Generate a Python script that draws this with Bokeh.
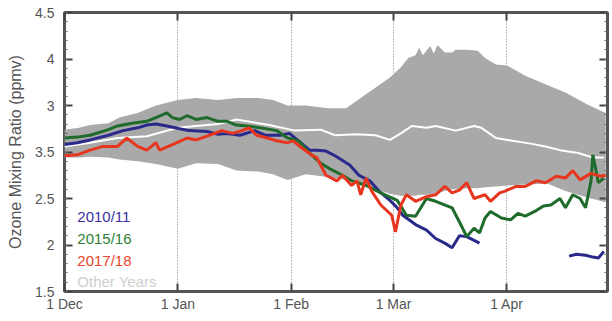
from bokeh.plotting import figure
from bokeh.models import FixedTicker, LinearAxis, Label
from bokeh.embed import file_html
from bokeh.resources import INLINE

nan = float("nan")

# x axis: days since 1 Dec
month_days = [0, 31, 62, 90, 121]
month_labels = ["1 Dec", "1 Jan", "1 Feb", "1 Mar", "1 Apr"]

y_ticks = [1.5, 2, 2.5, 3, 3.5, 4, 4.5]
y_tick_labels = ["1.5", "2", "2.5", "3.5", "3", "4", "4.5"]

# "Other Years" envelope
band_days = [0, 4, 7, 12, 15, 20, 25, 31, 36, 42, 47, 53, 57, 61, 66, 72, 77, 81, 85, 89,
             92, 94, 96, 97, 98, 100, 101, 102, 104, 106, 107, 110, 113, 115, 118, 121,
             126, 132, 137, 143, 148]
band_upper = [3.24, 3.26, 3.29, 3.31, 3.37, 3.42, 3.50, 3.56, 3.58, 3.56, 3.58, 3.58, 3.56,
              3.50, 3.50, 3.47, 3.47, 3.58, 3.69, 3.80, 3.91, 4.01, 4.04, 4.12, 4.04, 4.14,
              4.06, 4.15, 4.07, 4.07, 4.10, 4.10, 4.09, 4.01, 3.94, 3.93, 3.82, 3.72, 3.64,
              3.51, 3.42]
band_lower = [2.94, 2.94, 2.95, 2.94, 2.92, 2.90, 2.87, 2.82, 2.88, 2.87, 2.80, 2.79, 2.76,
              2.70, 2.76, 2.73, 2.70, 2.65, 2.60, 2.55, 2.53, 2.53, 2.53, 2.54, 2.54, 2.54,
              2.55, 2.56, 2.58, 2.60, 2.60, 2.61, 2.61, 2.62, 2.63, 2.64, 2.65, 2.66, 2.58,
              2.51, 2.46]

mean_days = [0, 7, 14.5, 22.5, 31, 36, 42, 47, 53, 56, 63, 70, 74, 80, 85, 89, 92, 95, 99,
             101.5, 107, 112, 114, 118, 122.5, 127.5, 131.5, 135.5, 140.5, 144.5, 147.5]
mean_vals = [3.06, 3.10, 3.15, 3.17, 3.26, 3.28, 3.30, 3.35, 3.31, 3.29, 3.23, 3.24, 3.18,
             3.19, 3.18, 3.13, 3.20, 3.28, 3.26, 3.28, 3.23, 3.28, 3.26, 3.15, 3.12, 3.09,
             3.06, 3.02, 2.99, 2.94, 2.94]

d1011 = [0, 3.5, 7, 12, 16, 20, 22.5, 25, 28, 31.5, 34, 39, 42, 44.5, 48, 52, 55, 59, 61.5,
         64, 67, 69, 71.5, 74, 78, 80.5, 83.5, 86, 89, 91, 92.5, 96, 99, 101.5, 104, 106,
         108, 110, 112, 113.5, 125, 138, 140, 142.5, 144.5, 146, 147.5]
v1011 = [3.08, 3.10, 3.13, 3.18, 3.23, 3.26, 3.29, 3.30, 3.28, 3.25, 3.23, 3.22, 3.19, 3.20,
         3.18, 3.23, 3.18, 3.18, 3.20, 3.12, 3.02, 3.02, 3.01, 2.96, 2.86, 2.75, 2.69, 2.58,
         2.48, 2.40, 2.32, 2.22, 2.16, 2.07, 2.02, 1.97, 2.10, 2.09, 2.05, 2.02, nan, 1.88,
         1.90, 1.89, 1.87, 1.86, 1.93]

d1516 = [0, 3.5, 7, 12, 14.5, 18.5, 22.5, 25, 28, 29.5, 31.5, 33.5, 36, 39, 42, 44.5, 47,
         50, 53.5, 58, 61, 64, 67, 70, 73, 76, 78.5, 82.5, 86.5, 91, 93.5, 96, 99, 101.5,
         106, 108.5, 110, 112, 113.5, 115, 116.5, 119.5, 122, 124, 126, 129, 131, 133,
         135.5, 137, 139, 141, 142.5, 144, 144.5, 146, 147.5]
v1516 = [3.15, 3.16, 3.18, 3.24, 3.28, 3.31, 3.33, 3.37, 3.42, 3.37, 3.35, 3.39, 3.35, 3.37,
         3.33, 3.33, 3.29, 3.28, 3.26, 3.23, 3.15, 3.12, 2.99, 2.88, 2.81, 2.75, 2.69, 2.64,
         2.56, 2.48, 2.32, 2.31, 2.50, 2.47, 2.40, 2.21, 2.09, 2.18, 2.13, 2.29, 2.36, 2.29,
         2.27, 2.34, 2.31, 2.37, 2.42, 2.43, 2.50, 2.40, 2.54, 2.50, 2.40, 2.69, 2.97, 2.67,
         2.72]

d1718 = [0, 3.5, 7, 10.5, 14.5, 17, 20, 22.5, 25, 26, 29.5, 33.5, 36, 39, 43, 46, 48.5,
         50.5, 52.5, 55.5, 58, 61, 62.5, 65, 67.5, 69, 71.5, 74.5, 76, 78.5, 80, 81, 82.5,
         84, 86.5, 89.5, 90.5, 92, 93.5, 96, 99, 101.5, 104, 106, 108, 110, 112, 115,
         116.5, 119, 120.5, 123.5, 126, 129, 131.5, 134.5, 137, 139, 141, 144, 146.5, 148]
v1718 = [2.96, 2.97, 3.02, 3.06, 3.06, 3.15, 3.06, 3.02, 3.10, 3.02, 3.08, 3.15, 3.13, 3.17,
         3.23, 3.20, 3.23, 3.26, 3.18, 3.15, 3.12, 3.10, 3.12, 3.04, 2.97, 2.94, 2.75, 2.69,
         2.75, 2.64, 2.69, 2.54, 2.72, 2.58, 2.43, 2.32, 2.14, 2.43, 2.54, 2.47, 2.52, 2.54,
         2.63, 2.56, 2.59, 2.67, 2.50, 2.54, 2.47, 2.56, 2.58, 2.63, 2.63, 2.69, 2.67, 2.74,
         2.72, 2.80, 2.70, 2.77, 2.74, 2.75]

legend_names = ["2010/11", "2015/16", "2017/18", "Other Years"]
legend_colors = ["#3a2f9e", "#2f7f35", "#e8462c", "#cfcfcf"]
legend_y = [2.31, 2.07, 1.83, 1.61]

FONT = "Liberation Sans"
TXT = "#555555"

p = figure(width=609, height=319, x_range=(0, 148.5), y_range=(1.5, 4.5),
           output_backend="svg", toolbar_location=None,
           min_border_left=64, min_border_right=2, min_border_top=12, min_border_bottom=28)
p.background_fill_color = "white"
p.border_fill_color = "white"
p.outline_line_color = "#555555"
p.outline_line_width = 3

# gray envelope and lines
p.varea(x=band_days, y1=band_lower, y2=band_upper, fill_color="#a9a9a9")
p.line(mean_days, mean_vals, line_color="white", line_width=2)
p.line(d1011, v1011, line_color="#2a2a8c", line_width=3)
p.line(d1516, v1516, line_color="#1f6b2b", line_width=3)
p.line(d1718, v1718, line_color="#e8351e", line_width=3)

xt = FixedTicker(ticks=month_days)
yt = FixedTicker(ticks=y_ticks, minor_ticks=[1.5 + 0.1 * i for i in range(31)])

p.xaxis.ticker = xt
p.xaxis.major_label_overrides = dict(zip(month_days, month_labels))
p.yaxis.ticker = yt
p.yaxis.major_label_overrides = {t: l for t, l in zip(y_ticks, y_tick_labels)}
p.yaxis.axis_label = "Ozone Mixing Ratio (ppmv)"

for ax in (p.xaxis[0], p.yaxis[0]):
    ax.axis_line_color = None
    ax.major_tick_in = 8
    ax.major_tick_out = 0
    ax.major_tick_line_color = "#444444"
    ax.major_tick_line_width = 2
    ax.minor_tick_in = 3
    ax.minor_tick_out = 0
    ax.minor_tick_line_color = "#666666"
    ax.major_label_text_font = FONT
    ax.major_label_text_font_size = "14px"
    ax.major_label_text_color = TXT
    ax.major_label_standoff = 6
p.xaxis.minor_tick_line_color = None
p.xaxis.major_label_standoff = 4
p.yaxis.major_label_standoff = 10
p.yaxis.axis_label_text_font = FONT
p.yaxis.axis_label_text_font_size = "16px"
p.yaxis.axis_label_text_font_style = "normal"
p.yaxis.axis_label_text_color = TXT
p.yaxis.axis_label_standoff = 8

top = LinearAxis(ticker=xt, major_label_text_font_size="1px", major_label_text_color=None,
                 axis_line_color=None,
                 major_tick_in=8, major_tick_out=0, major_tick_line_width=2,
                 major_tick_line_color="#444444", minor_tick_line_color=None,
                 major_label_standoff=0)
p.add_layout(top, "above")
right = LinearAxis(ticker=yt, major_label_text_font_size="1px", major_label_text_color=None,
                   axis_line_color=None,
                   major_tick_in=8, major_tick_out=0, major_tick_line_width=2,
                   major_tick_line_color="#444444", minor_tick_in=3, minor_tick_out=0,
                   minor_tick_line_color="#666666", major_label_standoff=0)
p.add_layout(right, "right")

p.xgrid.ticker = xt
p.xgrid.grid_line_color = "#777777"
p.xgrid.grid_line_dash = "1 2"
p.xgrid.grid_line_width = 1
p.ygrid.grid_line_color = None

for name, col, yy in zip(legend_names, legend_colors, legend_y):
    p.add_layout(Label(x=3.5, y=yy, text=name, text_color=col, text_font=FONT,
                       text_font_size="15px", text_baseline="middle"))

open("out.html", "w").write(file_html(p, INLINE))
